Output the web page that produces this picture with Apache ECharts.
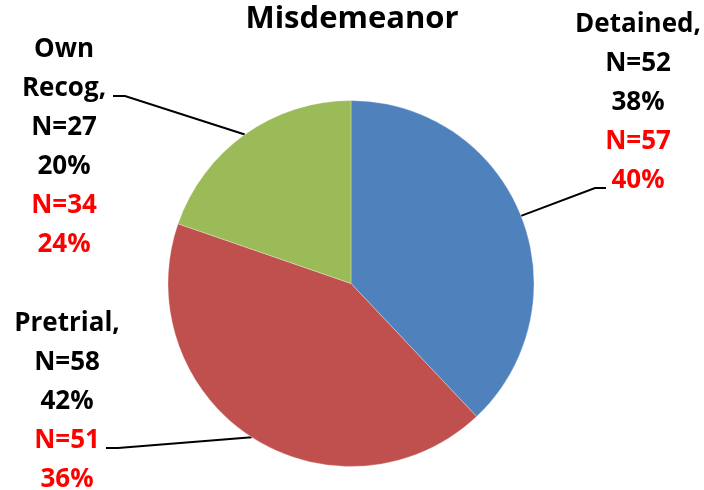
<!DOCTYPE html>
<html>
<head>
<meta charset="utf-8">
<script src="https://cdn.jsdelivr.net/npm/echarts@6/dist/echarts.min.js"></script>
<style>html,body{margin:0;padding:0;background:#fff}#c{width:704px;height:490px}</style>
</head>
<body>
<div id="c"></div>
<script>
const title = 'Misdemeanor';
const categories = ['Detained', 'Pretrial', 'Own Recog'];
const values = [52, 58, 27];
const altN = [57, 51, 34];
const altPct = [40, 36, 24];
const colors = ['#4F81BD', '#C0504D', '#9BBB59'];

// label placement (layout only)
const labelPlace = {
  'Detained':  { cx: 638, top: 5,   lineY: 188, x1: 595, x2: 606 },
  'Pretrial':  { cx: 67,  top: 304, lineY: 448, x1: 118, x2: 106 },
  'Own Recog': { cx: 64,  top: 30,  lineY: 96,  x1: 125, x2: 113 }
};
const nameLines = {
  'Detained': 'Detained,',
  'Pretrial': 'Pretrial,',
  'Own Recog': 'Own\nRecog,'
};

const chart = echarts.init(document.getElementById('c'), null, { renderer: 'canvas' });
const FONT = 'Open Sans';
const FS = 26;
chart.setOption({
  animation: false,
  title: {
    text: title, left: 'center', top: -1,
    textStyle: { fontFamily: FONT, fontWeight: 'bold', fontSize: 31, color: '#000' }
  },
  series: [{
    type: 'pie',
    center: [351, 283.5],
    radius: 183,
    startAngle: 90,
    clockwise: true,
    avoidLabelOverlap: false,
    itemStyle: { borderColor: 'rgba(255,255,255,0.6)', borderWidth: 0.5 },
    data: categories.map((c, i) => ({ name: c, value: values[i], itemStyle: { color: colors[i] } })),
    label: {
      show: true,
      position: 'outside',
      fontFamily: FONT,
      fontWeight: 'bold',
      fontSize: FS,
      lineHeight: 39,
      color: '#000',
      align: 'center',
      formatter: function (p) {
        const i = p.dataIndex;
        const nm = nameLines[p.name].split('\n').map(s => '{b|' + s + '}').join('\n');
        return nm + '\n{b|N=' + p.value + '}\n{b|' + Math.round(p.percent) + '%}\n{r|N=' + altN[i] + '}\n{r|' + altPct[i] + '%}';
      },
      rich: {
        b: { fontFamily: FONT, fontWeight: 'bold', fontSize: FS, lineHeight: 39, color: '#000' },
        r: { fontFamily: FONT, fontWeight: 'bold', fontSize: FS, lineHeight: 39, color: '#FF0000' }
      }
    },
    labelLine: {
      show: true,
      length: 20,
      length2: 10,
      lineStyle: { color: '#000', width: 2 }
    },
    labelLayout: function (params) {
      const pl = labelPlace[categories[params.dataIndex]];
      const pts = params.labelLinePoints;
      const p0 = pts ? pts[0] : [0, 0];
      return {
        x: pl.cx,
        y: pl.top,
        align: 'center',
        verticalAlign: 'top',
        labelLinePoints: [[p0[0], p0[1]], [pl.x1, pl.lineY], [pl.x2, pl.lineY]]
      };
    }
  }]
});
</script>
</body>
</html>
